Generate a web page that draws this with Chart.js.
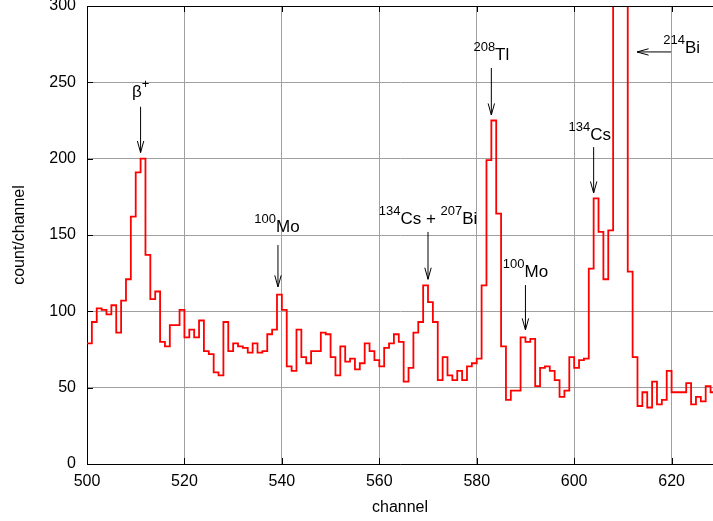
<!DOCTYPE html>
<html><head><meta charset="utf-8">
<script src="https://cdn.jsdelivr.net/npm/chart.js@4.4.0/dist/chart.umd.min.js"></script>
<style>html,body{margin:0;padding:0;background:#fff;overflow:hidden}</style>
</head><body>
<canvas id="c" width="713" height="521" style="display:block;width:713px;height:521px"></canvas>
<script>
const channels = [500,501,502,503,504,505,506,507,508,509,510,511,512,513,514,515,516,517,518,519,
  520,521,522,523,524,525,526,527,528,529,530,531,532,533,534,535,536,537,538,539,
  540,541,542,543,544,545,546,547,548,549,550,551,552,553,554,555,556,557,558,559,
  560,561,562,563,564,565,566,567,568,569,570,571,572,573,574,575,576,577,578,579,
  580,581,582,583,584,585,586,587,588,589,590,591,592,593,594,595,596,597,598,599,
  600,601,602,603,604,605,606,607,608,609,610,611,612,613,614,615,616,617,618,619,
  620,621,622,623,624,625,626,627,628];
const counts = [79,93,102,101,98,104,86,107,121,162,191,200,137,108,113,80,77,91,91,101,
  83,88,83,94,74,72,60,58,93,74,79,77,76,73,79,73,74,85,88,111,
  101,64,61,88,70,66,74,74,86,85,70,58,77,67,69,62,66,79,74,68,
  64,76,79,85,80,54,63,86,93,117,106,93,55,70,58,55,61,55,64,66,
  69,117,199,225,164,77,42,48,48,83,80,82,51,63,64,61,55,44,48,70,
  63,68,69,128,174,152,121,153,420,700,480,126,70,38,47,37,54,39,42,61,
  47,47,47,53,39,44,41,51,47];
const xTicks = [500,520,540,560,580,600,620];
const yTicks = [0,50,100,150,200,250,300];

// peak labels: text parts [string, isSuperscript], anchor in data units, arrow [x1,y1,x2,y2] in data units
const peakLabels = [
  {parts:[['β',false],['+',true]], x:511, y:240.5, align:'center', arrow:[511,234,511,204]},
  {parts:[['100',true],['Mo',false]], x:539, y:152, align:'center', arrow:[539.2,143.4,539.2,116]},
  {parts:[['134',true],['Cs + ',false],['207',true],['Bi',false]], x:570, y:157, align:'center', arrow:[570,152,570,121]},
  {parts:[['208',true],['Tl',false]], x:583, y:264.6, align:'center', arrow:[583,259.4,583,228.6]},
  {parts:[['100',true],['Mo',false]], x:590, y:122.5, align:'center', arrow:[590,117.2,590,87.8]},
  {parts:[['134',true],['Cs',false]], x:603.2, y:212.2, align:'center', arrow:[604,207.6,604,177.5]},
  {parts:[['214',true],['Bi',false]], x:618.3, y:269.2, align:'left', arrow:[619.9,269.9,612.9,269.9]}
];

const FONT = '"Liberation Sans", Arial, Helvetica, sans-serif';
const points = channels.map((c, i) => ({x: c, y: counts[i]}));
points.push({x: channels[channels.length - 1] + 1, y: counts[counts.length - 1]});

const framePlugin = {
  id: 'frame',
  afterDraw(chart) {
    const ctx = chart.ctx;
    const a = chart.chartArea;
    const xs = chart.scales.x, ys = chart.scales.y;
    ctx.save();
    ctx.strokeStyle = '#000';
    ctx.lineWidth = 1;
    ctx.beginPath();
    ctx.moveTo(a.left, Math.round(a.top) + 0.5);
    ctx.lineTo(a.right, Math.round(a.top) + 0.5);
    xTicks.forEach(v => {
      const px = Math.round(xs.getPixelForValue(v)) + 0.5;
      ctx.moveTo(px, a.bottom); ctx.lineTo(px, a.bottom - 6);
      ctx.moveTo(px, a.top); ctx.lineTo(px, a.top + 6);
    });
    yTicks.forEach(v => {
      const py = Math.round(ys.getPixelForValue(v)) + 0.5;
      ctx.moveTo(a.left, py); ctx.lineTo(a.left + 6, py);
    });
    ctx.stroke();

    const baseFont = '17px ' + FONT;
    const supFont = '13px ' + FONT;
    ctx.fillStyle = '#000';
    ctx.textBaseline = 'alphabetic';
    ctx.textAlign = 'left';
    peakLabels.forEach(l => {
      let total = 0;
      const widths = l.parts.map(p => { ctx.font = p[1] ? supFont : baseFont; const w = ctx.measureText(p[0]).width; total += w; return w; });
      let x = xs.getPixelForValue(l.x);
      if (l.align === 'center') x -= total / 2;
      const y = ys.getPixelForValue(l.y);
      l.parts.forEach((p, i) => {
        ctx.font = p[1] ? supFont : baseFont;
        ctx.fillText(p[0], x, p[1] ? y - 9 : y);
        x += widths[i];
      });
      const [ax1, ay1, ax2, ay2] = l.arrow;
      const x1 = xs.getPixelForValue(ax1), y1 = ys.getPixelForValue(ay1);
      const x2 = xs.getPixelForValue(ax2), y2 = ys.getPixelForValue(ay2);
      const ang = Math.atan2(y2 - y1, x2 - x1);
      const hl = 12, hw = 0.27;
      ctx.beginPath();
      ctx.moveTo(x1, y1); ctx.lineTo(x2, y2);
      ctx.moveTo(x2 - hl * Math.cos(ang - hw), y2 - hl * Math.sin(ang - hw));
      ctx.lineTo(x2, y2);
      ctx.lineTo(x2 - hl * Math.cos(ang + hw), y2 - hl * Math.sin(ang + hw));
      ctx.stroke();
    });
    ctx.restore();
  }
};

new Chart(document.getElementById('c'), {
  type: 'line',
  data: {
    datasets: [{
      data: points,
      stepped: 'before',
      borderColor: '#ff0000',
      borderWidth: 1.8,
      pointRadius: 0,
      fill: false,
      clip: {left: 1, top: 0, right: 0, bottom: 1}
    }]
  },
  options: {
    responsive: false,
    devicePixelRatio: 1,
    animation: false,
    layout: {padding: {top: 6, right: 0, left: 0, bottom: 0}},
    plugins: {legend: {display: false}, tooltip: {enabled: false}},
    scales: {
      x: {
        type: 'linear', min: 500, max: 628.5,
        afterBuildTicks: s => { s.ticks = xTicks.map(v => ({value: v})); },
        afterFit: s => { s.height = 57; s.paddingLeft = 0; s.paddingRight = 0; },
        grid: {color: '#a0a0a0', lineWidth: 1, drawTicks: false},
        border: {color: '#000', width: 1},
        ticks: {color: '#000', font: {family: FONT, size: 16}, padding: 8, maxRotation: 0, autoSkip: false},
        title: {display: true, text: 'channel', color: '#000', font: {family: FONT, size: 16}, padding: {top: 0, bottom: 4}}
      },
      y: {
        min: 0, max: 300,
        afterBuildTicks: s => { s.ticks = yTicks.map(v => ({value: v})); },
        afterFit: s => { s.width = 87; s.paddingTop = 0; s.paddingBottom = 0; },
        grid: {color: '#a0a0a0', lineWidth: 1, drawTicks: false},
        border: {color: '#000', width: 1},
        ticks: {color: '#000', font: {family: FONT, size: 16}, padding: 11},
        title: {display: true, text: 'count/channel', color: '#000', font: {family: FONT, size: 16}, padding: {top: 9.5, bottom: 0}}
      }
    }
  },
  plugins: [framePlugin]
});
</script>
</body></html>
